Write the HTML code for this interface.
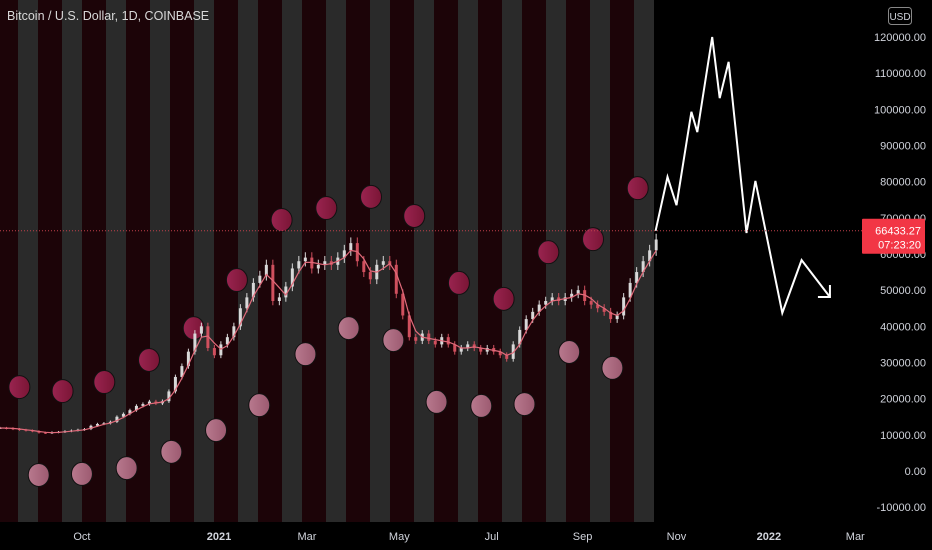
<!DOCTYPE html>
<html><head><meta charset="utf-8">
<style>
html,body{margin:0;padding:0;background:#000;}
body{width:932px;height:550px;overflow:hidden;font-family:"Liberation Sans",sans-serif;}
svg{display:block}
</style></head>
<body>
<svg id="chart" width="932" height="550" xmlns="http://www.w3.org/2000/svg">
<defs>
<linearGradient id="gTop" x1="0" x2="1"><stop offset="0" stop-color="#9a2450"/><stop offset="1" stop-color="#7a1535"/></linearGradient>
<linearGradient id="gBot" x1="0" x2="1"><stop offset="0" stop-color="#b8798e"/><stop offset="1" stop-color="#9c5a70"/></linearGradient>
</defs>
<rect x="0" y="0" width="932" height="550" fill="#000"/>
<g id="stripes"></g>
<g id="circles"></g>
<g id="candles"></g>
<g id="ma"></g>
<g id="proj"></g>
<g id="overlay"></g>
<g id="axes"></g>
<text x="7" y="20" fill="#d8d8d8" font-size="12.5">Bitcoin / U.S. Dollar, 1D, COINBASE</text>
</svg>
<script>
const priceStartDay = 0;
const priceStepDays = 4.36;
const priceValues = [11900,11800,11600,11400,11200,11000,10600,10500,10700,10800,11000,11200,11400,11600,12500,13000,13200,13600,15000,15800,16800,18000,18500,19200,18700,19300,22000,26000,29000,33000,38000,40000,34000,32000,35000,37000,40000,45000,48000,52000,54000,57000,47000,48000,51000,56000,58000,59000,56000,57000,58000,57000,59000,61000,63000,58000,55000,53000,57000,58000,57000,49000,43000,37000,36000,38000,36000,35000,37000,35000,33000,34000,35000,34000,33000,34000,33000,32000,31000,35000,39000,42000,44000,46000,47000,48000,47000,48000,49000,50000,47000,46000,45000,44000,42000,43000,48000,52000,55000,58000,61000,64000];
const projDays = [440,448,454,464,468,478,483,489,501,507,525,538,557];
const projValues = [66400,81300,73500,99300,93700,120000,103100,113100,65800,80200,43700,58300,48100];
const topCircleDays = [13,42,70,100,130,159,189,219,249,278,308,338,368,398,428];
const topCircleValues = [23200,22100,24600,30700,39500,52800,69400,72700,75800,70500,52000,47600,60500,64100,78200];
const botCircleDays = [26,55,85,115,145,174,205,234,264,293,323,352,382,411];
const botCircleValues = [-1100,-800,800,5300,11300,18200,32300,39500,36200,19100,18000,18500,32900,28500];
const yTicks = [120000,110000,100000,90000,80000,70000,60000,50000,40000,30000,20000,10000,0,-10000];
const xTickLabels = ["Oct","2021","Mar","May","Jul","Sep","Nov","2022","Mar"];
const xTickDays = [55,147,206,268,330,391,454,516,574];
const lastPrice = 66433.27;

const NS="http://www.w3.org/2000/svg";
const X = d => d*1.49;
const Y = v => 471 - v*0.003617;
function mk(tag, attrs, parent){const e=document.createElementNS(NS,tag);for(const k in attrs)e.setAttribute(k,attrs[k]);parent.appendChild(e);return e;}
const g = id => document.getElementById(id);

// stripes
for(let k=0;k<15;k++){
  const x0=-26+44*k;
  const r=mk('rect',{x:x0,y:0,width:44,height:522,fill:'#1c0408'},g('stripes'));
  
  
}
for(let k=0;k<15;k++){
  const x0=18+44*k;
  const gw=Math.min(20,656-x0);
  if(gw>0){
    const s=mk('rect',{x:x0,y:0,width:gw,height:522,fill:'#2a2a2a'},g('stripes'));
    
    
  }
}
// circles
topCircleDays.forEach((d,i)=>{
  const c=mk('ellipse',{cx:X(d),cy:Y(topCircleValues[i]),rx:10.5,ry:11.5,fill:'url(#gTop)',stroke:'#111',"stroke-width":1},g('circles'));
  
  
});
botCircleDays.forEach((d,i)=>{
  const c=mk('ellipse',{cx:X(d),cy:Y(botCircleValues[i]),rx:10.5,ry:11.5,fill:'url(#gBot)',stroke:'#111',"stroke-width":1},g('circles'));
  
  
});
// candles
priceValues.forEach((v,i)=>{
  const d=priceStartDay+i*priceStepDays;
  const o=i>0?priceValues[i-1]:v;
  const up=v>=o;
  const hi=Math.max(o,v)*1.025, lo=Math.min(o,v)*0.975;
  const x=X(d);
  const col=up?'#d8d8d8':'#d0505e';
  const w=mk('line',{x1:x,x2:x,y1:Y(hi),y2:Y(lo),stroke:col,"stroke-width":1},g('candles'));
  
  
  const b=mk('rect',{x:x-1.5,y:Math.min(Y(o),Y(v)),width:3,height:Math.max(1,Math.abs(Y(o)-Y(v))),fill:col},g('candles'));
  
  
});
// moving average
let pts=[];
priceValues.forEach((v,i)=>{
  const s=priceValues.slice(Math.max(0,i-2),i+1);
  const m=s.reduce((a,b)=>a+b,0)/s.length;
  pts.push(X(priceStartDay+i*priceStepDays).toFixed(1)+','+Y(m).toFixed(1));
});
const ma=mk('polyline',{points:pts.join(' '),fill:'none',stroke:'#e06a7a',"stroke-width":1.2},g('ma'));


// projection
const pp=projDays.map((d,i)=>X(d).toFixed(1)+','+Y(projValues[i]).toFixed(1)).join(' ');
const pl=mk('polyline',{points:pp,fill:'none',stroke:'#fff',"stroke-width":2,"stroke-linejoin":"miter"},g('proj'));


const n=projDays.length, ex=X(projDays[n-1]), ey=Y(projValues[n-1]);
const ah=mk('polyline',{points:`${ex},${ey-12} ${ex},${ey} ${ex-12},${ey}`,fill:'none',stroke:'#fff',"stroke-width":2},g('proj'));


// current price line
const ly=Y(lastPrice);
const pl2=mk('line',{x1:0,x2:862,y1:ly,y2:ly,stroke:'#c0404a',"stroke-width":1,"stroke-dasharray":"1,2"},g('overlay'));


// axes
const ax=g('axes');
const bb=mk('rect',{x:0,y:522,width:932,height:28,fill:'#000'},ax);


const rb=mk('rect',{x:862,y:0,width:70,height:550,fill:'#000'},ax);


yTicks.forEach(v=>{
  const t=mk('text',{x:926,y:Y(v)+4,fill:'#d1d4dc',"font-size":11,"text-anchor":"end"},ax);
  t.textContent=v.toFixed(2);
  
  
});
xTickLabels.forEach((s,i)=>{
  const bold=/^\d/.test(s);
  const t=mk('text',{x:X(xTickDays[i]),y:540,fill:'#d1d4dc',"font-size":11,"text-anchor":"middle","font-weight":bold?'bold':'normal'},ax);
  t.textContent=s;
  
  
});
const lb=mk('rect',{x:862,y:ly-12,width:63,height:35,fill:'#f23645',rx:1},ax);


const t1=mk('text',{x:921,y:ly+4,fill:'#fff',"font-size":11,"text-anchor":"end"},ax);
t1.textContent=lastPrice.toFixed(2);


const t2=mk('text',{x:921,y:ly+18,fill:'#fff',"font-size":11,"text-anchor":"end"},ax);
t2.textContent='07:23:20';


const ub=mk('rect',{x:888.5,y:7.5,width:23,height:17,fill:'#000',stroke:'#888',rx:3},ax);


const ut=mk('text',{x:900,y:20,fill:'#d1d4dc',"font-size":10,"text-anchor":"middle"},ax);
ut.textContent='USD';


</script>
</body></html>
